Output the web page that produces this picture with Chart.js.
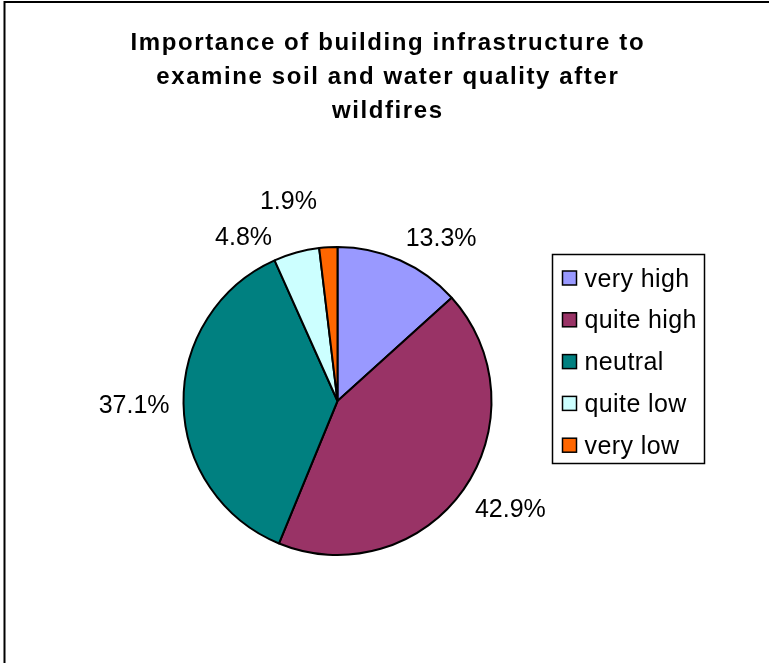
<!DOCTYPE html>
<html lang="en">
<head>
<meta charset="UTF-8">
<title>Building infrastructure after wildfires</title>
<script src="https://cdn.jsdelivr.net/npm/chart.js"></script>
<style>
  body { margin: 0; background: #fff; }
  canvas { display: block; }
</style>
</head>
<body>
<canvas id="pieChart" width="769" height="663"></canvas>
<script>
// answers to the survey question, share of respondents in percent
const categories = ['very high', 'quite high', 'neutral', 'quite low', 'very low'];
const shares = [13.3, 42.9, 37.1, 4.8, 1.9];
const sliceColors = ['#9999ff', '#993366', '#008080', '#ccffff', '#ff6600'];
const titleLines = [
  'Importance of building infrastructure to',
  'examine soil and water quality after',
  'wildfires'
];

const FONT = '"Liberation Sans", Arial, sans-serif';

// text drawn char by char so the letters can be spread out a bit
function spacedWidth(ctx, text, gap) {
  let w = 0;
  for (const ch of text) w += ctx.measureText(ch).width + gap;
  return w - gap;
}
function drawSpaced(ctx, text, x, y, gap) {
  for (const ch of text) {
    ctx.fillText(ch, x, y);
    x += ctx.measureText(ch).width + gap;
  }
}

// white page with the outer frame
const framePlugin = {
  id: 'frame',
  beforeDraw(chart) {
    const ctx = chart.ctx;
    ctx.save();
    ctx.fillStyle = '#fff';
    ctx.fillRect(0, 0, chart.width, chart.height);
    ctx.strokeStyle = '#000';
    ctx.lineWidth = 2;
    ctx.strokeRect(4.5, 2, chart.width + 20, chart.height + 20);
    ctx.restore();
  }
};

const titlePlugin = {
  id: 'bigTitle',
  afterDraw(chart, args, opts) {
    const ctx = chart.ctx;
    ctx.save();
    ctx.font = 'bold ' + opts.size + 'px ' + FONT;
    ctx.fillStyle = '#000';
    ctx.textBaseline = 'alphabetic';
    titleLines.forEach((line, i) => {
      const w = spacedWidth(ctx, line, opts.gap);
      drawSpaced(ctx, line, opts.centerX - w / 2, opts.top + i * opts.lineHeight, opts.gap);
    });
    ctx.restore();
  }
};

// percentage labels outside each slice: the corner of the text box nearest
// to the pie sits on a ring just outside it, along the middle of the slice.
// when two labels collide both slide back round the ring and the later one
// also moves further out.
const clamp1 = v => Math.max(-1, Math.min(1, v));
const sliceLabelPlugin = {
  id: 'sliceLabels',
  afterDatasetsDraw(chart, args, opts) {
    const ctx = chart.ctx;
    const meta = chart.getDatasetMeta(0);
    const values = chart.data.datasets[0].data;
    ctx.save();
    ctx.font = opts.size + 'px ' + FONT;
    ctx.fillStyle = '#000';

    const items = meta.data.map((arc, i) => {
      const p = arc.getProps(['x', 'y', 'startAngle', 'endAngle', 'outerRadius'], true);
      const text = values[i].toFixed(1) + '%';
      return {
        text, cx0: p.x, cy0: p.y,
        angle: (p.startAngle + p.endAngle) / 2,
        r: p.outerRadius + opts.offset,
        w: spacedWidth(ctx, text, opts.gap),
        h: opts.size * 0.8
      };
    });
    const boxOf = it => {
      const c = Math.cos(it.angle), s = Math.sin(it.angle);
      const cx = it.cx0 + it.r * c + (it.w / 2) * clamp1(3 * c);
      const cy = it.cy0 + it.r * s + (it.h / 2) * clamp1(3 * s);
      return { cx, cy, x1: cx - it.w / 2, x2: cx + it.w / 2, y1: cy - it.h / 2, y2: cy + it.h / 2 };
    };
    const m = opts.margin;
    const overlap = (a, b) => a.x1 < b.x2 + m && a.x2 > b.x1 - m && a.y1 < b.y2 + m && a.y2 > b.y1 - m;

    for (let iter = 0; iter < 300; iter++) {
      let moved = false;
      for (let i = 1; i < items.length; i++) {
        for (let j = 0; j < i; j++) {
          if (overlap(boxOf(items[i]), boxOf(items[j]))) {
            items[i].r += 2;
            items[i].angle -= 0.009;
            items[j].angle -= 0.01;
            moved = true;
          }
        }
      }
      if (!moved) break;
    }

    items.forEach(it => {
      const b = boxOf(it);
      drawSpaced(ctx, it.text, b.x1, b.cy + opts.size * 0.36, opts.gap);
    });
    ctx.restore();
  }
};

const legendPlugin = {
  id: 'boxLegend',
  afterDraw(chart, args, opts) {
    const ctx = chart.ctx;
    const ds = chart.data.datasets[0];
    ctx.save();
    ctx.strokeStyle = '#000';
    ctx.lineWidth = 1.5;
    ctx.strokeRect(opts.x, opts.y, opts.width, opts.height);
    ctx.font = opts.size + 'px ' + FONT;
    chart.data.labels.forEach((label, i) => {
      const cy = opts.y + opts.firstRow + i * opts.rowGap;
      ctx.fillStyle = ds.backgroundColor[i];
      ctx.fillRect(opts.x + 10, cy - 7, 14, 14);
      ctx.strokeRect(opts.x + 10, cy - 7, 14, 14);
      ctx.fillStyle = '#000';
      drawSpaced(ctx, label, opts.x + 32, cy + 8.5, opts.gap);
    });
    ctx.restore();
  }
};

new Chart(document.getElementById('pieChart'), {
  type: 'pie',
  data: {
    labels: categories,
    datasets: [{
      data: shares,
      backgroundColor: sliceColors,
      borderColor: '#000',
      borderWidth: 2,
      radius: 154
    }]
  },
  options: {
    responsive: false,
    devicePixelRatio: 1,
    animation: false,
    radius: 154,
    layout: { padding: { left: 20, right: 114, top: 180, bottom: 41 } },
    plugins: {
      legend: { display: false },
      tooltip: { enabled: false },
      bigTitle: { size: 24, centerX: 387, top: 50, lineHeight: 34, gap: 1.6 },
      sliceLabels: { size: 25, gap: 0, offset: 14, margin: 16 },
      boxLegend: { x: 552.5, y: 254.5, width: 152, height: 209, firstRow: 23.5, rowGap: 41.8, size: 25, gap: 0.4 }
    }
  },
  plugins: [framePlugin, titlePlugin, sliceLabelPlugin, legendPlugin]
});
</script>
</body>
</html>
